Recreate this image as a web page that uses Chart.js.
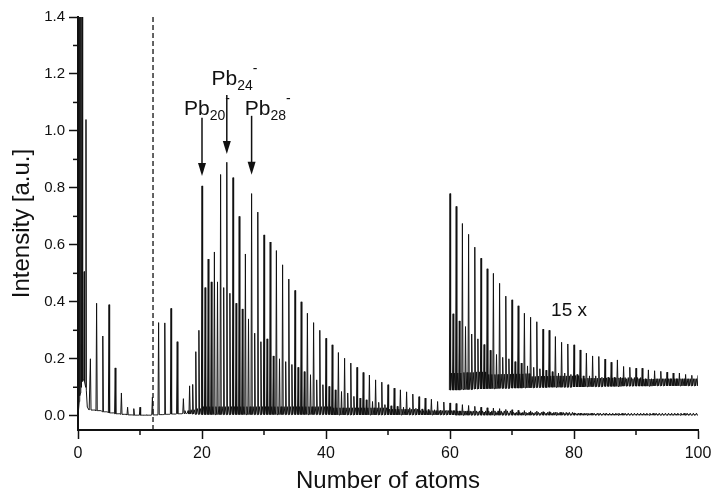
<!DOCTYPE html>
<html>
<head>
<meta charset="utf-8">
<script src="https://cdn.jsdelivr.net/npm/chart.js@4.4.0/dist/chart.umd.min.js"></script>
<style>
  html, body { margin: 0; padding: 0; background: #fff; }
</style>
</head>
<body>
<canvas id="spectrum" width="712" height="496"></canvas>
<script>
// low mass part (0 .. 1.8 atoms), read point by point
const lowMassX = [0, 0.2, 0.25, 0.3, 0.4, 0.45, 0.5, 0.53, 0.56, 0.6, 0.65, 0.7, 0.8, 0.95, 1.0, 1.05, 1.24, 1.29, 1.34, 1.5, 1.8];
const lowMassY = [0, 0.05, 1.6, 0.07, 0.08, 1.6, 0.1, 0.25, 0.1, 0.11, 1.6, 0.12, 0.126, 0.125, 0.506, 0.12, 0.1, 1.04, 0.09, 0.03, 0.02];

// peak height at each cluster size n = 0..100
const peakN = [
  0, 0, 0.20, 0.395, 0.28, 0.39, 0.168, 0.08, 0.03, 0.025,
  0.03, 0.003, 0.065, 0.327, 0.326, 0.377, 0.26, 0.06, 0.105, 0.225,
  0.807, 0.55, 0.575, 0.847, 0.89, 0.836, 0.70, 0.568, 0.78, 0.715,
  0.635, 0.61, 0.58, 0.53, 0.48, 0.44, 0.40, 0.36, 0.327, 0.30,
  0.272, 0.249, 0.222, 0.202, 0.185, 0.17, 0.152, 0.143, 0.126, 0.118,
  0.109, 0.097, 0.091, 0.084, 0.076, 0.067, 0.062, 0.058, 0.05, 0.048,
  0.045, 0.043, 0.039, 0.036, 0.033, 0.030, 0.028, 0.027, 0.025, 0.022,
  0.021, 0.019, 0.018, 0.017, 0.016, 0.014, 0.014, 0.012, 0.011, 0.010,
  0.010, 0.009, 0.008, 0.008, 0.008, 0.007, 0.006, 0.007, 0.005, 0.005,
  0.005, 0.005, 0.004, 0.004, 0.004, 0.004, 0.004, 0.004, 0.003, 0.003,
  0.003
];
// smaller peak at n + 0.5, n = 0..99
const peakHalf = [
  0, 0, 0, 0, 0, 0, 0, 0, 0, 0,
  0, 0, 0, 0, 0, 0, 0, 0, 0.11, 0.30,
  0.45, 0.47, 0.47, 0.45, 0.43, 0.395, 0.375, 0.34, 0.29, 0.26,
  0.27, 0.21, 0.20, 0.19, 0.18, 0.17, 0.155, 0.144, 0.126, 0.109,
  0.103, 0.091, 0.085, 0.08, 0.068, 0.062, 0.056, 0.05, 0.047, 0.039,
  0.035, 0.033, 0.03, 0.028, 0.026, 0.024, 0.022, 0.021, 0.02, 0.019,
  0.018, 0.017, 0.016, 0.015, 0.014, 0.013, 0.012, 0.011, 0.011, 0.010,
  0.010, 0.010, 0.009, 0.009, 0.009, 0.008, 0.008, 0.008, 0.008, 0.007,
  0.007, 0.007, 0.007, 0.006, 0.006, 0.006, 0.006, 0.006, 0.005, 0.005,
  0.005, 0.005, 0.005, 0.005, 0.005, 0.005, 0.005, 0.005, 0.005, 0.005
];
// baseline (valley level) at n = 0..100
const baseN = [
  0, 0, 0.02, 0.018, 0.014, 0.01, 0.007, 0.005, 0.003, 0.002,
  0.002, 0.002, 0.003, 0.004, 0.005, 0.006, 0.007, 0.008, 0.006, 0.005,
  0.004, 0.004, 0.004, 0.004, 0.004, 0.004, 0.004, 0.004, 0.004, 0.004,
  0.004, 0.004, 0.004, 0.004, 0.004, 0.004, 0.004, 0.004, 0.004, 0.004,
  0.004, 0.003, 0.003, 0.003, 0.003, 0.003, 0.003, 0.003, 0.003, 0.003,
  0.003, 0.003, 0.003, 0.003, 0.003, 0.003, 0.003, 0.003, 0.003, 0.003,
  0.003, 0.002, 0.002, 0.002, 0.002, 0.002, 0.002, 0.002, 0.002, 0.002,
  0.002, 0.002, 0.002, 0.002, 0.002, 0.002, 0.002, 0.002, 0.002, 0.002,
  0.002, 0.002, 0.002, 0.002, 0.002, 0.002, 0.002, 0.002, 0.002, 0.002,
  0.002, 0.002, 0.002, 0.002, 0.002, 0.002, 0.002, 0.002, 0.002, 0.002,
  0.002
];
// noise bumps between the peaks, n = 0..99
const rippleN = [
  0, 0, 0, 0, 0, 0, 0, 0, 0, 0,
  0, 0, 0, 0, 0, 0, 0, 0.01, 0.015, 0.02,
  0.028, 0.028, 0.028, 0.028, 0.028, 0.028, 0.028, 0.028, 0.028, 0.028,
  0.028, 0.028, 0.028, 0.028, 0.028, 0.028, 0.028, 0.028, 0.028, 0.028,
  0.028, 0.025, 0.025, 0.025, 0.025, 0.025, 0.025, 0.025, 0.025, 0.025,
  0.02, 0.02, 0.02, 0.02, 0.02, 0.015, 0.015, 0.015, 0.015, 0.015,
  0.015, 0.015, 0.015, 0.015, 0.015, 0.015, 0.015, 0.015, 0.015, 0.015,
  0.01, 0.01, 0.01, 0.01, 0.01, 0.01, 0.01, 0.01, 0.01, 0.01,
  0.007, 0.007, 0.007, 0.007, 0.007, 0.007, 0.007, 0.007, 0.007, 0.007,
  0.007, 0.007, 0.007, 0.007, 0.007, 0.007, 0.007, 0.007, 0.007, 0.007
];

// 15 x magnified trace, n = 60..100 (already offset on the plot)
const insetPeak = [
  0.78, 0.735, 0.675, 0.637, 0.592, 0.553, 0.516, 0.50, 0.465, 0.42,
  0.407, 0.386, 0.36, 0.346, 0.33, 0.304, 0.30, 0.278, 0.258, 0.252,
  0.249, 0.231, 0.22, 0.21, 0.208, 0.199, 0.188, 0.196, 0.173, 0.17,
  0.167, 0.167, 0.161, 0.158, 0.156, 0.153, 0.15, 0.15, 0.145, 0.142,
  0.142
];
const insetHalf = [
  0.358, 0.333, 0.313, 0.287, 0.27, 0.25, 0.23, 0.215, 0.205, 0.2,
  0.19, 0.185, 0.175, 0.17, 0.165, 0.16, 0.155, 0.15, 0.15, 0.145,
  0.145, 0.14, 0.14, 0.14, 0.135, 0.135, 0.135, 0.135, 0.13, 0.13,
  0.13, 0.13, 0.13, 0.13, 0.13, 0.13, 0.13, 0.13, 0.13, 0.13
];
const insetBase = [
  0.09, 0.09, 0.092, 0.092, 0.094, 0.094, 0.095, 0.095, 0.096, 0.096,
  0.097, 0.097, 0.098, 0.098, 0.099, 0.099, 0.1, 0.1, 0.1, 0.1,
  0.101, 0.101, 0.102, 0.102, 0.102, 0.103, 0.103, 0.103, 0.104, 0.104,
  0.104, 0.104, 0.104, 0.105, 0.105, 0.105, 0.105, 0.105, 0.105, 0.105,
  0.105
];
const insetRipple = [
  0.06, 0.06, 0.06, 0.06, 0.06, 0.06, 0.05, 0.05, 0.05, 0.05,
  0.05, 0.05, 0.05, 0.04, 0.04, 0.04, 0.04, 0.04, 0.04, 0.04,
  0.04, 0.03, 0.03, 0.03, 0.03, 0.03, 0.03, 0.03, 0.03, 0.03,
  0.03, 0.025, 0.025, 0.025, 0.025, 0.025, 0.025, 0.025, 0.025, 0.025
];

const xTicks = [0, 20, 40, 60, 80, 100];
const xMinor = [10, 30, 50, 70, 90];
const yTicks = [0, 0.2, 0.4, 0.6, 0.8, 1.0, 1.2, 1.4];
const yTickLabels = ['0.0', '0.2', '0.4', '0.6', '0.8', '1.0', '1.2', '1.4'];
const yMinor = [0.1, 0.3, 0.5, 0.7, 0.9, 1.1, 1.3];

// labels and arrows
const arrowAt = [20, 24, 28];
const arrowTail = [1.046, 1.126, 1.053];
const arrowTip = [0.842, 0.919, 0.846];
const labelSub = ['20', '24', '28'];
const labelX = [17.1, 21.55, 26.9];
const labelY = [1.056, 1.161, 1.056];
const cutAt = 12.1;

const FONT = "'Liberation Sans', Arial, Helvetica, sans-serif";
const INK = '#111';

// turn the peak lists into a line trace
function buildTrace(first, last, offset, peaks, halves, base, ripple) {
  const pts = [];
  const w = 0.1;
  for (let n = first; n <= last; n++) {
    const i = n - offset;
    const b = base[i];
    pts.push({x: n - w, y: b});
    pts.push({x: n, y: Math.max(peaks[i], b)});
    pts.push({x: n + w, y: b});
    if (n === last) break;
    const r = ripple[i];
    pts.push({x: n + 0.25, y: b + r});
    pts.push({x: n + 0.5 - w, y: b});
    pts.push({x: n + 0.5, y: Math.max(halves[i], b)});
    pts.push({x: n + 0.5 + w, y: b});
    pts.push({x: n + 0.75, y: b + r});
  }
  return pts;
}

const mainTrace = lowMassX.map((x, i) => ({x: x, y: lowMassY[i]}))
  .concat(buildTrace(2, 100, 0, peakN, peakHalf, baseN, rippleN));
const insetTrace = buildTrace(60, 100, 60, insetPeak, insetHalf, insetBase, insetRipple);

const extras = {
  id: 'extras',
  afterDatasetsDraw(chart) {
    const ctx = chart.ctx;
    const xs = chart.scales.x, ys = chart.scales.y;
    ctx.save();
    ctx.strokeStyle = INK;
    ctx.fillStyle = INK;
    // minor ticks
    ctx.lineWidth = 1.5;
    const bottom = chart.chartArea.bottom, left = chart.chartArea.left;
    xMinor.forEach(v => {
      const px = xs.getPixelForValue(v);
      ctx.beginPath(); ctx.moveTo(px, bottom); ctx.lineTo(px, bottom + 5); ctx.stroke();
    });
    yMinor.forEach(v => {
      const py = ys.getPixelForValue(v);
      ctx.beginPath(); ctx.moveTo(left - 5, py); ctx.lineTo(left, py); ctx.stroke();
    });
    // arrows
    ctx.lineWidth = 1.5;
    arrowAt.forEach((a, i) => {
      const px = xs.getPixelForValue(a);
      const y0 = ys.getPixelForValue(arrowTail[i]);
      const y1 = ys.getPixelForValue(arrowTip[i]);
      ctx.beginPath(); ctx.moveTo(px, y0); ctx.lineTo(px, y1 - 10); ctx.stroke();
      ctx.beginPath();
      ctx.moveTo(px - 4, y1 - 13); ctx.lineTo(px + 4, y1 - 13); ctx.lineTo(px, y1);
      ctx.closePath(); ctx.fill();
    });
    // Pb_n^- labels
    ctx.textBaseline = 'alphabetic';
    ctx.textAlign = 'left';
    labelSub.forEach((s, i) => {
      let px = xs.getPixelForValue(labelX[i]);
      const py = ys.getPixelForValue(labelY[i]);
      ctx.font = '21px ' + FONT;
      ctx.fillText('Pb', px, py);
      px += ctx.measureText('Pb').width;
      ctx.font = '14px ' + FONT;
      ctx.fillText(s, px, py + 5);
      px += ctx.measureText(s).width;
      ctx.fillText('-', px, py - 12);
    });
    ctx.font = '19px ' + FONT;
    ctx.fillText('15 x', xs.getPixelForValue(76.3), ys.getPixelForValue(0.351));
    ctx.restore();
  }
};

new Chart(document.getElementById('spectrum'), {
  type: 'line',
  data: {
    datasets: [
      {
        data: mainTrace,
        borderColor: INK,
        borderWidth: 1,
        pointRadius: 0,
        tension: 0
      },
      {
        data: insetTrace,
        borderColor: INK,
        borderWidth: 1,
        pointRadius: 0,
        tension: 0
      },
      {
        data: [{x: cutAt, y: -0.05}, {x: cutAt, y: 1.4}],
        borderColor: INK,
        borderWidth: 1.3,
        borderDash: [5, 3],
        pointRadius: 0
      }
    ]
  },
  plugins: [extras],
  options: {
    responsive: false,
    animation: false,
    events: [],
    layout: { padding: { top: 17, right: 14, left: 0, bottom: 0 } },
    plugins: { legend: { display: false }, tooltip: { enabled: false } },
    scales: {
      x: {
        type: 'linear',
        min: 0,
        max: 100,
        afterBuildTicks: s => { s.ticks = xTicks.map(v => ({value: v})); },
        afterFit: s => { s.height = 66; s.paddingRight = 0; s.paddingLeft = 0; },
        grid: { drawOnChartArea: false, drawTicks: true, tickLength: 9, tickWidth: 1.5, tickColor: INK },
        border: { display: true, color: INK, width: 2 },
        ticks: { color: INK, padding: 5, maxRotation: 0, font: { family: FONT, size: 16 } },
        title: { display: true, text: 'Number of atoms', color: INK, padding: 0, font: { family: FONT, size: 24 } }
      },
      y: {
        type: 'linear',
        min: -0.05,
        max: 1.4,
        afterBuildTicks: s => { s.ticks = yTicks.map(v => ({value: v})); },
        afterFit: s => { s.width = 78; },
        grid: { drawOnChartArea: false, drawTicks: true, tickLength: 9, tickWidth: 1.5, tickColor: INK },
        border: { display: true, color: INK, width: 2 },
        ticks: {
          color: INK, padding: 4, font: { family: FONT, size: 15 },
          callback: (v) => { const k = yTicks.indexOf(v); return k >= 0 ? yTickLabels[k] : ''; }
        },
        title: { display: true, text: 'Intensity [a.u.]', color: INK, padding: { top: 8, bottom: 0 }, font: { family: FONT, size: 24 } }
      }
    }
  }
});
</script>
</body>
</html>
